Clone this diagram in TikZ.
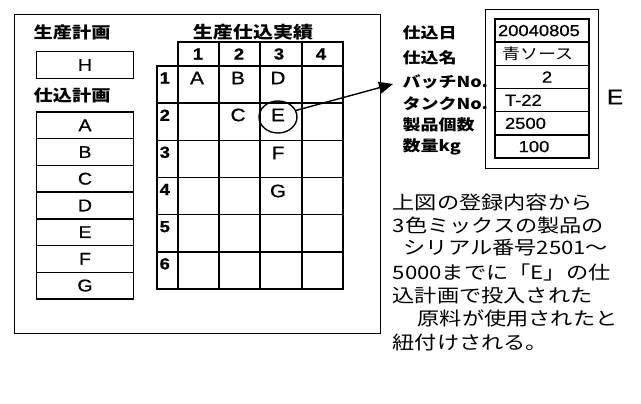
\documentclass[tikz,border=0pt]{standalone}
\usepackage{fontspec}
\setmainfont{Liberation Sans}[FakeStretch=1.15,FakeBold=0.8]
\newfontfamily\cjk{Noto Sans CJK JP}[FakeStretch=1.2]
\usetikzlibrary{arrows.meta,shapes.geometric}
\begin{document}
\begin{tikzpicture}[x=1pt,y=-1pt,line width=1.4pt,
  plan/.style={draw,minimum width=97pt,minimum height=26.7pt,inner sep=0pt,font=\fontsize{17}{17}\selectfont},
  cell/.style={inner sep=0pt,font=\fontsize{18}{18}\selectfont},
  hdr/.style={inner sep=0pt,font=\bfseries\fontsize{16}{16}\selectfont},
  ttl/.style={inner sep=0pt,font=\cjk\bfseries\fontsize{16}{16}\selectfont},
  lbl/.style={inner sep=0pt,anchor=west,font=\cjk\bfseries\fontsize{15}{15}\selectfont},
  valbox/.style={draw,minimum width=94pt,minimum height=23.2pt,inner sep=0pt,font=\fontsize{16}{16}\selectfont},
  para/.style={inner sep=0pt,anchor=west,font=\cjk\fontsize{18.5}{18.5}\selectfont}]
\useasboundingbox (0,0) rectangle (641,404);
% outer frame
\node[draw,anchor=north west,minimum width=366pt,minimum height=319pt,inner sep=0pt] (frame) at (14,14) {};
% left panel
\node[ttl,anchor=west] (tprod) at (33,32) {生産計画};
\node[plan] (H) at (85,65) {H};
\node[ttl,anchor=west] (tplan) at (33,95) {仕込計画};
\foreach \t [count=\i] in {A,B,C,D,E,F,G}{
  \node[plan] (p\t) at (85,{112+13.35+(\i-1)*26.7}) {\t};
}
% grid
\node[ttl,font=\cjk\bfseries\fontsize{16.7}{16.7}\selectfont] (tgrid) at (253,32) {生産仕込実績};
\draw (178,42) rectangle (343,66);
\draw (157,66) rectangle (343,289);
\draw (178,42) -- (178,289);
\foreach \x in {219,260,302}{ \draw (\x,42) -- (\x,289); }
\foreach \k in {1,...,5}{ \draw (157,{66+\k*37.17}) -- (343,{66+\k*37.17}); }
\foreach \x/\n in {198/1,239/2,279/3,321/4}{ \node[hdr] (h\n) at (\x,54) {\n}; }
\foreach \n in {1,...,6}{ \node[hdr,anchor=west] (r\n) at (159,{66+12+(\n-1)*37.17}) {\n}; }
\node[cell] (gA) at (197,78) {A};
\node[cell] (gB) at (238,78) {B};
\node[cell] (gD) at (278,78) {D};
\node[cell] (gC) at (238,115) {C};
\node[cell] (gE) at (278,115) {E};
\node[cell] (gF) at (278,153) {F};
\node[cell] (gG) at (278,191) {G};
\node[draw,ellipse,minimum width=38pt,minimum height=32pt,inner sep=0pt] (circ) at (278,117) {};
\coordinate (tip) at (393,84);
\draw[-{Triangle[length=14pt,width=12pt]}] (circ.20) -- (tip);
% right panel
\node[lbl] (l1) at (402,33) {仕込日};
\node[lbl] (l2) at (402,58) {仕込名};
\node[lbl] (l3) at (402,82) {バッチNo.};
\node[lbl] (l4) at (402,104) {タンクNo.};
\node[lbl] (l5) at (402,125) {製品個数};
\node[lbl] (l6) at (402,147) {数量kg};
\node[draw,anchor=north west,minimum width=113pt,minimum height=159pt,inner sep=0pt] (rframe) at (485,9) {};
\node[valbox] (v1) at (542,30.6) {\makebox[90pt][l]{\hspace{1pt}20040805}};
\node[valbox] (v2) at (542,53.8) {\makebox[90pt][l]{\hspace{5pt}{\cjk\fontsize{15}{15}\selectfont 青ソース}}};
\node[valbox] (v3) at (542,77.0) {\makebox[90pt][c]{\hspace{10pt}2}};
\node[valbox] (v4) at (542,100.2) {\makebox[90pt][l]{\hspace{8pt}T-22}};
\node[valbox] (v5) at (542,123.4) {\makebox[90pt][l]{\hspace{8pt}2500}};
\node[valbox] (v6) at (542,146.6) {\makebox[90pt][c]{100\hspace{16pt}}};
\node[cell,font=\fontsize{21}{21}\selectfont] (bigE) at (615,97) {E};
% paragraph
\node[para] (t1) at (392,202) {上図の登録内容から};
\node[para] (t2) at (392,225) {3色ミックスの製品の};
\node[para] (t3) at (403,248) {シリアル番号2501～};
\node[para] (t4) at (392,272) {5000までに「E」の仕};
\node[para] (t5) at (392,295) {込計画で投入された};
\node[para] (t6) at (417,318) {原料が使用されたと};
\node[para] (t7) at (392,342) {紐付けされる。};
\end{tikzpicture}
\end{document}
